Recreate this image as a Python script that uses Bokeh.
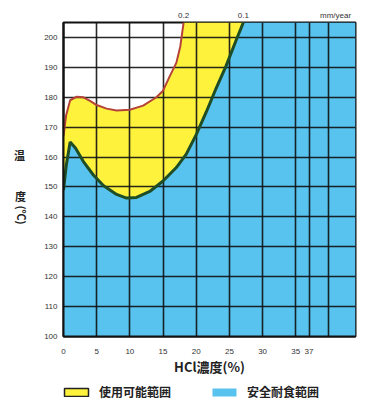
import math
from bokeh.plotting import figure
from bokeh.layouts import row, column
from bokeh.models import (FixedTicker, Legend, LegendItem, ColumnDataSource, Range1d, LinearAxis)
from bokeh.core.properties import value
from bokeh.embed import file_html
from bokeh.resources import INLINE

# Isocorrosion curves (temperature vs. HCl concentration)
red_x = [0, 0.4, 1, 2, 3, 4, 5, 6.5, 8, 10, 12, 14, 15, 16, 17, 17.6, 18.1]
red_t = [167, 174, 179, 180.2, 180, 178.8, 177.4, 176.2, 175.6, 175.8, 177.2, 180, 182.2, 187, 191.5, 197, 205]
red_label = "0.2"

green_x = [0, 0.4, 1, 1.8, 3, 4.5, 6, 8, 9.5, 11, 13, 15, 17, 18.5, 20, 21.5, 23, 24.5, 26, 27.1]
green_t = [149, 157, 165, 163, 158.5, 154, 150.5, 147.5, 146.3, 146.5, 148.5, 152, 156.5, 161, 167.5, 175, 183, 190.5, 199, 205]
green_label = "0.1"

unit_label = "mm/year"
unit_pos = 41

x_ticks = [0, 5, 10, 15, 20, 25, 30, 35, 37]
x_grid = [0, 5, 10, 15, 20, 25, 30, 35, 37, 40]
y_ticks = [100, 110, 120, 130, 140, 150, 160, 170, 180, 190, 200]

x_min, x_max = 0, 44
t_min, t_max = 100, 205

legend_labels = ["使用可能範囲", "安全耐食範囲"]
x_title = "HCl濃度(%)"
y_title_parts = ["温", "度", "(℃)"]

YELLOW = "#FFF23C"
BLUE = "#58C3EF"
INK = "#222222"
JP = "Noto Sans CJK JP"
LAT = "Liberation Sans"

MAIN_H = 378
LEFT_W = 33
TOP_B, BOTTOM_B = 22, 38

# ---------------- main chart ----------------
p = figure(width=372 - LEFT_W, height=MAIN_H, output_backend="svg", toolbar_location=None,
           x_range=Range1d(x_min, x_max), y_range=Range1d(t_min, t_max),
           min_border_left=30, min_border_right=17,
           min_border_top=TOP_B, min_border_bottom=BOTTOM_B)
p.background_fill_color = "white"
p.border_fill_color = "white"
p.outline_line_color = "#111111"
p.outline_line_width = 2

# Safe region: below the 0.1 mm/year curve
blue_xs = green_x + [x_max, x_max, x_min]
blue_ys = green_t + [t_max, t_min, t_min]
p.patch(blue_xs, blue_ys, fill_color=BLUE, line_color=None, level="image")

# Usable region: between the two curves
yel_xs = green_x + red_x[::-1]
yel_ys = green_t + red_t[::-1]
p.patch(yel_xs, yel_ys, fill_color=YELLOW, line_color=None, level="image")

# Curves
p.line(red_x, red_t, line_color="#B5433A", line_width=2)
p.line(green_x, green_t, line_color="#1E4D26", line_width=3)

# Grid
p.xgrid.ticker = FixedTicker(ticks=x_grid)
p.ygrid.ticker = FixedTicker(ticks=y_ticks)
for g in (p.xgrid, p.ygrid):
    g.grid_line_color = "#111111"
    g.grid_line_width = 1.6
    g.grid_line_alpha = 0.9

# Axes
p.xaxis.ticker = FixedTicker(ticks=x_ticks)
p.yaxis.ticker = FixedTicker(ticks=y_ticks)


def style_axis(ax):
    ax.axis_line_color = "#111111"
    ax.axis_line_width = 2
    ax.major_tick_out = 0
    ax.major_tick_in = 0
    ax.minor_tick_out = 0
    ax.minor_tick_in = 0
    ax.major_label_text_font = LAT
    ax.major_label_text_font_size = "8px"
    ax.major_label_text_color = "#333333"


style_axis(p.xaxis[0])
style_axis(p.yaxis[0])
p.xaxis.major_label_standoff = 12
p.yaxis.major_label_standoff = 6

p.xaxis.axis_label = x_title
p.xaxis.axis_label_text_font = JP
p.xaxis.axis_label_text_font_style = "bold"
p.xaxis.axis_label_text_font_size = "13px"
p.xaxis.axis_label_text_color = INK
p.xaxis.axis_label_standoff = 0

# Top axis: isocorrosion rates at the curve ends, plus the unit
top_ticks = [red_x[-1], green_x[-1], unit_pos]
top = LinearAxis(ticker=FixedTicker(ticks=top_ticks),
                 major_label_overrides={red_x[-1]: red_label, green_x[-1]: green_label,
                                        unit_pos: unit_label})
style_axis(top)
top.axis_line_color = None
top.major_label_standoff = 3
p.add_layout(top, "above")

# ---------------- vertical axis title ----------------
# This strip's frame lines up with the chart frame, so map it in page pixels
yt = figure(width=LEFT_W, height=MAIN_H, output_backend="svg", toolbar_location=None,
            x_range=Range1d(0, LEFT_W),
            y_range=Range1d(MAIN_H - (MAIN_H - BOTTOM_B), MAIN_H - TOP_B),
            min_border=0, x_axis_type=None, y_axis_type=None)
yt.outline_line_color = None
yt.grid.visible = False
title_pos = [(19, 156, 0.0), (20, 198, 0.0), (21, 217, -math.pi / 2)]
for txt, (tx, ty, ang) in zip(y_title_parts, title_pos):
    yt.text(x=[tx], y=[MAIN_H - ty], text=[txt], angle=ang,
            text_align="center", text_baseline="middle", text_font=value(JP),
            text_font_style="bold", text_font_size="11px", text_color=INK)

# ---------------- legend strip ----------------
lg = figure(width=372, height=406 - MAIN_H, output_backend="svg", toolbar_location=None,
            x_range=Range1d(0, 1), y_range=Range1d(0, 1),
            min_border=0, x_axis_type=None, y_axis_type=None)
lg.outline_line_color = None
lg.grid.visible = False
src0 = ColumnDataSource(dict(x=[-5], y=[-5]))
sw_y = lg.rect(x="x", y="y", width=1, height=1, source=src0, fill_color=YELLOW,
               line_color=INK, line_width=1.5)
sw_b = lg.rect(x="x", y="y", width=1, height=1, source=src0, fill_color=BLUE,
               line_color=None)
legend = Legend(items=[LegendItem(label=legend_labels[0], renderers=[sw_y]),
                       LegendItem(label=legend_labels[1], renderers=[sw_b])],
                orientation="horizontal", location=(61, 6),
                glyph_width=30, glyph_height=10, label_standoff=8, spacing=38,
                padding=0, margin=0, border_line_color=None,
                background_fill_alpha=0,
                label_text_font=JP, label_text_font_style="bold",
                label_text_font_size="12px", label_text_color=INK,
                label_height=12)
lg.add_layout(legend)

layout = column(row(yt, p, spacing=0), lg, spacing=0)
open("out.html", "w").write(file_html(layout, INLINE))
